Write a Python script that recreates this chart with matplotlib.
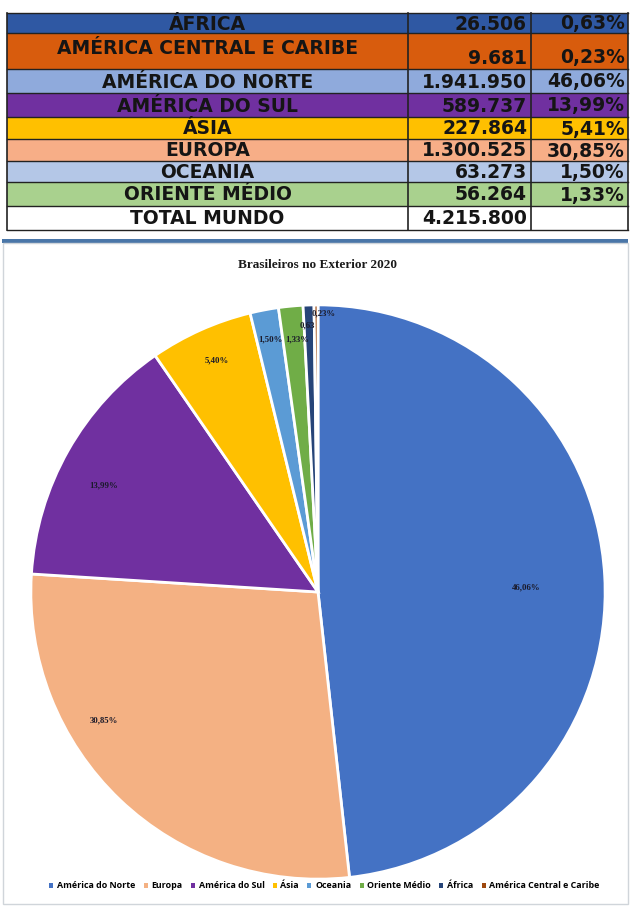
"""
Brasileiros no Exterior 2020 - tabela + gráfico de pizza
"""
import matplotlib.pyplot as plt
from matplotlib.patches import Rectangle

# ============================================================
# Dados
# ============================================================

# tabela (ordem da tabela)
table_regions = ['ÁFRICA', 'AMÉRICA CENTRAL E CARIBE', 'AMÉRICA DO NORTE', 'AMÉRICA DO SUL',
                 'ÁSIA', 'EUROPA', 'OCEANIA', 'ORIENTE MÉDIO', 'TOTAL MUNDO']
table_counts = ['26.506', '9.681', '1.941.950', '589.737', '227.864',
                '1.300.525', '63.273', '56.264', '4.215.800']
table_pcts = ['0,63%', '0,23%', '46,06%', '13,99%', '5,41%', '30,85%', '1,50%', '1,33%', '']
table_colors = ['#2F58A3', '#D85C0D', '#8FAADC', '#7030A0', '#FFC000',
                '#F7AE87', '#B4C7E7', '#A9D18E', '#FFFFFF']

# pizza (ordem do gráfico) - fatias
pie_regions = ['América do Norte', 'Europa', 'América do Sul', 'Ásia', 'Oceania',
               'Oriente Médio', 'África', 'América Central e Caribe']
pie_shares = [48.25, 27.75, 14.4, 5.8, 1.6, 1.37, 0.61, 0.22]
pie_labels = ['46,06%', '30,85%', '13,99%', '5,40%', '1,50%', '1,33%', '0,63', '0,23%']
pie_colors = ['#4472C4', '#F4B183', '#7030A0', '#FFC000', '#5B9BD5',
              '#70AD47', '#264478', '#9E480E']

# ============================================================
# Figura
# ============================================================

W, H = 640, 916
fig = plt.figure(figsize=(6.4, 9.16), dpi=100)

# camada em pixels para a tabela e molduras
bg = fig.add_axes([0, 0, 1, 1])
bg.set_xlim(0, W)
bg.set_ylim(H, 0)
bg.axis('off')

# linhas da tabela (limites em px)
row_edges = [13, 33, 69, 93, 117, 139, 161, 182, 206, 230]
col_edges = [7, 408, 531, 628]
tfont = dict(family='DejaVu Sans', weight='bold', fontsize=13.5, color='#151515')

for i, region in enumerate(table_regions):
    y0, y1 = row_edges[i], row_edges[i + 1]
    bg.add_patch(Rectangle((col_edges[0], y0), col_edges[3] - col_edges[0], y1 - y0,
                           facecolor=table_colors[i], edgecolor='none'))
    bg.plot([col_edges[0], col_edges[3]], [y0, y0], color='#222222', lw=1)
    ym = (y0 + y1) / 2 + 1
    if i == 1:
        bg.text((col_edges[0] + col_edges[1]) / 2, ym - 3, region, ha='center', va='center', **tfont)
        yn = ym + 6
    else:
        bg.text((col_edges[0] + col_edges[1]) / 2, ym, region, ha='center', va='center', **tfont)
        yn = ym
    bg.text(col_edges[2] - 4, yn, table_counts[i], ha='right', va='center', **tfont)
    bg.text(col_edges[3] - 3, yn, table_pcts[i], ha='right', va='center', **tfont)

bg.plot([col_edges[0], col_edges[3]], [row_edges[-1], row_edges[-1]], color='#222222', lw=1)
for x in col_edges:
    bg.plot([x, x], [row_edges[0], row_edges[-1]], color='#222222', lw=1.2)

# faixa azul e moldura do gráfico
bg.add_patch(Rectangle((2, 239), 626, 4, facecolor='#4A76A8', edgecolor='none'))
bg.add_patch(Rectangle((3, 243), 625, 661, facecolor='none', edgecolor='#D0D5DA', lw=1))

bg.text(318, 265, 'Brasileiros no Exterior 2020', ha='center', va='center',
        family='Liberation Serif', weight='bold', fontsize=9.5, color='#1a1a1a')

# ============================================================
# Pizza
# ============================================================

cx, cy, r = 318, 592, 290
ax = fig.add_axes([(cx - r) / W, (H - cy - r) / H, 2 * r / W, 2 * r / H])
wedges, _ = ax.pie(pie_shares, colors=pie_colors, startangle=90, counterclock=False,
                   wedgeprops=dict(edgecolor='white', linewidth=2))
ax.set_xlim(-1.01, 1.01)
ax.set_ylim(-1.01, 1.01)
ax.set_aspect('equal')

# posições dos rótulos (estilo "best fit" do Excel)
label_xy = [(0.724, 0.017), (-0.745, -0.448), (-0.748, 0.372), (-0.352, 0.807),
            (-0.166, 0.879), (-0.072, 0.879), (-0.038, 0.928), (0.020, 0.969)]
for (lx, ly), txt in zip(label_xy, pie_labels):
    ax.text(lx, ly, txt, ha='center', va='center', family='Liberation Serif',
            weight='bold', fontsize=6.3, color='#1a1a2a')

# legenda
handles = [Rectangle((0, 0), 1, 1, facecolor=c) for c in pie_colors]
fig.legend(handles, pie_regions, loc='center', bbox_to_anchor=(0.507, 1 - 886 / H),
           ncol=8, frameon=False, handlelength=0.45, handleheight=0.45,
           handletextpad=0.4, columnspacing=0.95,
           prop=dict(family='Open Sans', weight='bold', size=6.4))

plt.savefig('out.png', dpi=100)
plt.close()
